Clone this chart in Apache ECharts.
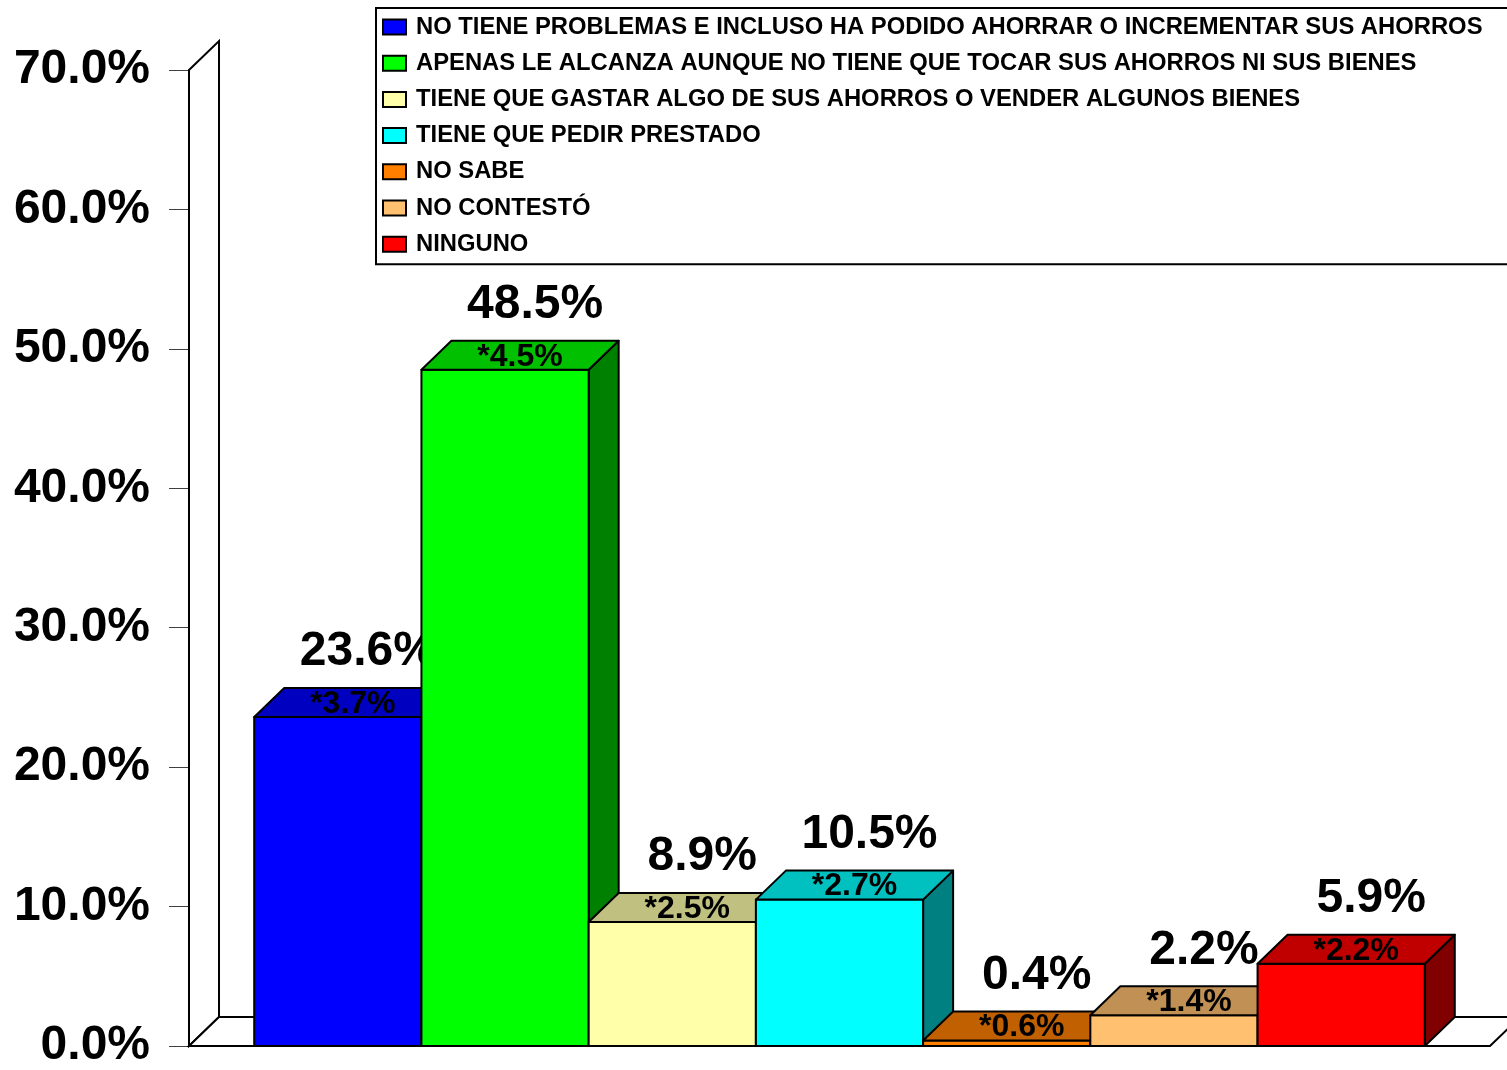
<!DOCTYPE html>
<html>
<head>
<meta charset="utf-8">
<script src="https://cdn.jsdelivr.net/npm/echarts@6/dist/echarts.min.js"></script>
<style>
html,body{margin:0;padding:0;background:#fff;}
#chart{width:1507px;height:1070px;}
</style>
</head>
<body>
<div id="chart"></div>
<script>
// ---- data ----
var categories = [
  'NO TIENE PROBLEMAS E INCLUSO HA PODIDO AHORRAR O INCREMENTAR SUS AHORROS',
  'APENAS LE ALCANZA AUNQUE NO TIENE QUE TOCAR SUS AHORROS NI SUS BIENES',
  'TIENE QUE GASTAR ALGO DE SUS AHORROS O VENDER ALGUNOS BIENES',
  'TIENE QUE PEDIR PRESTADO',
  'NO SABE',
  'NO CONTESTÓ',
  'NINGUNO'
];
var values = [23.6, 48.5, 8.9, 10.5, 0.4, 2.2, 5.9];
var starValues = [3.7, 4.5, 2.5, 2.7, 0.6, 1.4, 2.2];
var frontColors = ['#0000FF', '#00FF00', '#FFFFAA', '#00FFFF', '#FF8000', '#FFC070', '#FF0000'];
var topColors   = ['#0000C0', '#00C000', '#C0C080', '#00C0C0', '#C06000', '#C09054', '#C00000'];
var sideColors  = ['#000080', '#008000', '#808055', '#008080', '#804000', '#806038', '#800000'];
var yTicks = [0, 10, 20, 30, 40, 50, 60, 70];

// ---- style constants ----
var DX = 30, DY = 29;
var FONT = '"Liberation Sans", Arial, sans-serif';
var XMIN = -0.39, XMAX = 7.39;

function wallRender(params, api) {
  var a = api.coord([XMIN, yTicks[yTicks.length - 1]]);
  var b = api.coord([XMIN, 0]);
  var c = api.coord([XMAX, 0]);
  var st = {fill: '#fff', stroke: '#000', lineWidth: 2};
  return {
    type: 'group',
    children: [
      {type: 'polygon', shape: {points: [[a[0], a[1]], [a[0] + DX, a[1] - DY], [b[0] + DX, b[1] - DY], [b[0], b[1]]]}, style: st},
      {type: 'polygon', shape: {points: [[b[0], b[1]], [b[0] + DX, b[1] - DY], [c[0] + DX, c[1] - DY], [c[0], c[1]]]}, style: st}
    ]
  };
}

function makeBarRender(k) {
  return function (params, api) {
    var i = api.value(0), v = api.value(1), s = api.value(2);
    var p0 = api.coord([i, 0]);
    var p1 = api.coord([i + 1, v]);
    var x0 = p0[0], x1 = p1[0], yb = p0[1], yt = p1[1];
    var cx = (x0 + x1) / 2;
    var line = {stroke: '#000', lineWidth: 2, lineJoin: 'round'};
    return {
      type: 'group',
      children: [
        {type: 'polygon', shape: {points: [[x1, yt], [x1 + DX, yt - DY], [x1 + DX, yb - DY], [x1, yb]]},
          style: Object.assign({fill: sideColors[k]}, line)},
        {type: 'polygon', shape: {points: [[x0, yb], [x0, yt], [x1, yt], [x1, yb]]},
          style: Object.assign({fill: frontColors[k]}, line)},
        {type: 'polygon', shape: {points: [[x0, yt], [x0 + DX, yt - DY], [x1 + DX, yt - DY], [x1, yt]]},
          style: Object.assign({fill: topColors[k]}, line)},
        {type: 'text', style: {text: '*' + s.toFixed(1) + '%', x: cx + DX / 2, y: yt - 13,
          fill: '#000', font: 'bold 32px ' + FONT, align: 'center', verticalAlign: 'middle',
          textAlign: 'center', textVerticalAlign: 'middle'}},
        {type: 'text', style: {text: v.toFixed(1) + '%', x: cx + DX, y: yt - 65,
          fill: '#000', font: 'bold 48px ' + FONT, align: 'center', verticalAlign: 'middle',
          textAlign: 'center', textVerticalAlign: 'middle'}}
      ]
    };
  };
}

var series = [{
  type: 'custom', name: '__walls', renderItem: wallRender, data: [[0]], clip: false, silent: true, z: 1,
  encode: {x: 0}
}];
categories.forEach(function (name, k) {
  series.push({
    type: 'custom',
    name: name,
    renderItem: makeBarRender(k),
    data: [[k, values[k], starValues[k]]],
    encode: {x: 0, y: 1},
    itemStyle: {color: frontColors[k]},
    clip: false,
    z: 2
  });
});

var chart = echarts.init(document.getElementById('chart'), null, {renderer: 'canvas'});
chart.setOption({
  animation: false,
  backgroundColor: '#fff',
  grid: {left: 189, top: 70, width: 1301, height: 978, containLabel: false},
  xAxis: {type: 'value', min: XMIN, max: XMAX, show: false},
  yAxis: {
    type: 'value', min: 0, max: 70, interval: 10,
    axisLine: {show: false, onZero: false},
    splitLine: {show: false},
    axisTick: {show: true, inside: false, length: 20, lineStyle: {color: '#404040', width: 1}},
    axisLabel: {
      margin: 39, color: '#000', fontSize: 48, fontWeight: 'bold', fontFamily: FONT,
      padding: [8, 0, 0, 0],
      formatter: function (v) { return v.toFixed(1) + '%'; }
    }
  },
  legend: {
    orient: 'vertical', left: 376, top: 8,
    selectedMode: false,
    backgroundColor: '#fff', borderColor: '#000', borderWidth: 2,
    padding: [7, 40, 8, 6],
    itemGap: 12.2, itemWidth: 23, itemHeight: 15, icon: 'rect',
    textStyle: {color: '#000', fontSize: 23.8, fontWeight: 'bold', fontFamily: FONT, lineHeight: 24, padding: [0, 0, 0, 5]},
    data: categories.map(function (n, k) {
      return {name: n, itemStyle: {color: frontColors[k], borderColor: '#000', borderWidth: 2}};
    })
  },
  series: series
});
</script>
</body>
</html>
